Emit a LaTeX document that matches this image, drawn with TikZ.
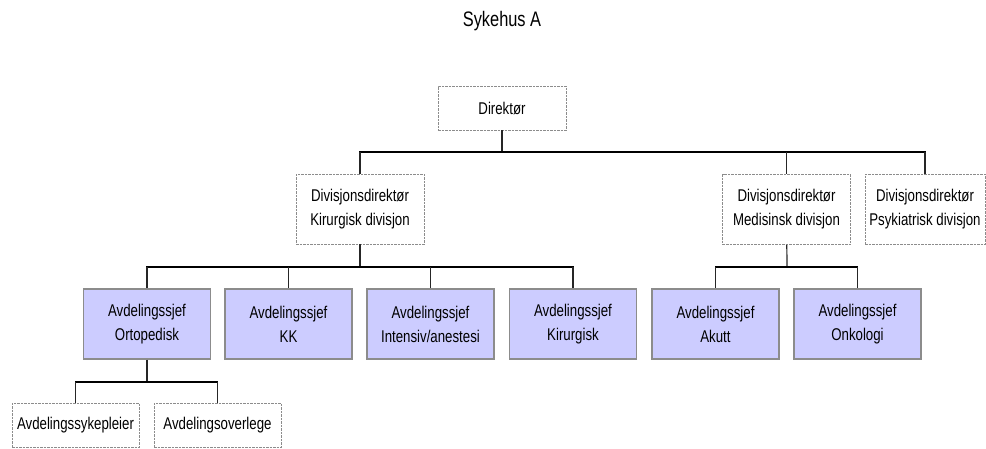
\documentclass[tikz,border=0pt]{standalone}
\usepackage{fontspec}
\setmainfont[FakeStretch=0.78]{Liberation Sans}
\newcommand\orgfont{\fontsize{17}{24}\selectfont}
\newcommand\titlefont{\fontsize{21}{25}\selectfont}
\definecolor{deptblue}{HTML}{CCCCFF}
\definecolor{boxgray}{HTML}{8C8C8C}
\tikzset{
    dashbox/.style={draw=boxgray, line width=0.9pt, dash pattern=on 2.5pt off 1pt,
        minimum width=128, minimum height=70, align=center, font=\orgfont, inner sep=2pt},
    deptbox/.style={draw=boxgray, line width=1.3pt, fill=deptblue,
        minimum width=127, minimum height=70, align=center, font=\orgfont},
    bus/.style={line width=1.6pt, line cap=rect},
    stem/.style={line width=1.2pt, black!85}
}
\begin{document}
\begin{tikzpicture}[x=1pt, y=-1pt]
    \useasboundingbox (0,0) rectangle (986,448);
    \node [anchor=base, font=\titlefont] (title) at (502,26) {Sykehus A};

    % top level
    \node [dashbox, minimum height=44] (dir) at (502,108) {Direktør};

    % divisions
    \node [dashbox] (kdiv) at (360,209) {Divisjonsdirektør\\Kirurgisk divisjon};
    \node [dashbox] (mdiv) at (786.5,209.5) {Divisjonsdirektør\\Medisinsk divisjon};
    \node [dashbox, minimum width=120] (pdiv) at (925,209) {Divisjonsdirektør\\Psykiatrisk divisjon};

    % departments
    \node [deptbox] (orto) at (147,324) {Avdelingssjef\\Ortopedisk};
    \node [deptbox] (kk) at (288.5,324) {Avdelingssjef\\KK};
    \node [deptbox] (inten) at (430.5,324) {Avdelingssjef\\Intensiv/anestesi};
    \node [deptbox] (kir) at (573,324) {Avdelingssjef\\Kirurgisk};
    \node [deptbox] (akutt) at (715.5,324) {Avdelingssjef\\Akutt};
    \node [deptbox] (onko) at (857.5,324) {Avdelingssjef\\Onkologi};

    % under Ortopedisk
    \node [dashbox, minimum width=127, minimum height=44] (spl) at (75.5,425) {Avdelingssykepleier};
    \node [dashbox, minimum width=127, minimum height=44] (ovl) at (217.5,425) {Avdelingsoverlege};

    % connectors
    \coordinate (top) at (502,152);
    \coordinate (kbus) at (360,267);
    \coordinate (mbus) at (787,267);
    \coordinate (obus) at (147,382);

    \draw [stem] (dir) -- (dir |- top);
    \draw [bus] (kdiv |- top) -- (pdiv |- top);
    \foreach \n in {kdiv, mdiv, pdiv} {
        \draw [stem] (\n |- top) -- (\n);
    }

    \draw [stem] (kdiv) -- (kbus);
    \draw [bus] (orto |- kbus) -- (kir |- kbus);
    \foreach \n in {orto, kk, inten, kir} {
        \draw [stem] (\n |- kbus) -- (\n);
    }

    \draw [stem] (mdiv) -- (mbus);
    \draw [bus] (akutt |- mbus) -- (onko |- mbus);
    \foreach \n in {akutt, onko} {
        \draw [stem] (\n |- mbus) -- (\n);
    }

    \draw [stem] (orto) -- (obus);
    \draw [bus] (spl |- obus) -- (ovl |- obus);
    \foreach \n in {spl, ovl} {
        \draw [stem] (\n |- obus) -- (\n);
    }
\end{tikzpicture}
\end{document}
